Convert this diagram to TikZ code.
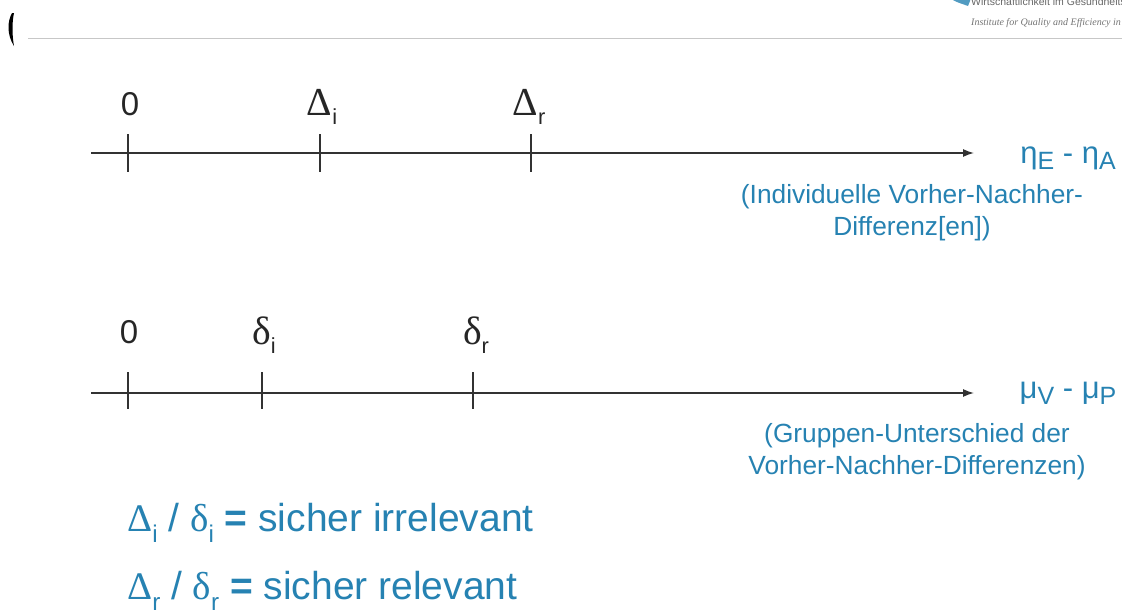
\documentclass[tikz,border=0pt]{standalone}
\usepackage{fontspec}
\setmainfont{Liberation Sans}
\newfontfamily\sym[Scale=1.2]{Liberation Serif}
\newfontfamily\symflat{Liberation Serif}
\newfontfamily\hdrserif{Liberation Serif}
\usetikzlibrary{arrows.meta}
\definecolor{iqblue}{RGB}{38,130,178}
\definecolor{axisc}{RGB}{50,50,50}
\tikzset{
 x=1pt,y=-1pt,
 axisline/.style={draw=axisc,line width=1.4pt,-{Latex[length=11pt,width=8pt]}},
 tick/.style={draw=axisc,line width=1.1pt},
 lab/.style={text=black!85,font=\fontsize{33}{33}\selectfont,inner sep=0pt,anchor=base},
 varlab/.style={text=iqblue,font=\fontsize{31}{31}\selectfont,inner sep=0pt,anchor=base},
 note/.style={text=iqblue,font=\fontsize{26.3}{32}\selectfont,inner sep=0pt,align=center,anchor=center},
 legend/.style={text=iqblue,font=\fontsize{39}{39}\selectfont,inner sep=0pt,anchor=base west},
}
\newcommand{\gsub}[2]{{\sym #1}\raisebox{-0.3em}{\fontsize{0.66em}{1em}\selectfont #2}}
\newcommand{\lsub}[2]{{\symflat #1}\raisebox{-0.3em}{\fontsize{0.62em}{1em}\selectfont #2}}
\newcommand{\vsub}[1]{\raisebox{-0.22em}{\fontsize{25}{25}\selectfont #1}}
\begin{document}
\begin{tikzpicture}
\useasboundingbox (0,0) rectangle (1122,611);
\begin{scope}
\clip (0,0) rectangle (1122,611);
% header
\fill[black] (12,13) .. controls (7,22) and (7,35) .. (14,46) .. controls (12,35) and (12,22) .. (14,13) -- cycle;
\draw[black!22,line width=1pt] (28,38) -- (1122,38);
\fill[iqblue!80] (953,0) .. controls (958,3) and (963,4) .. (968,6) -- (970,1) -- (970,0) -- cycle;
\node[anchor=base west,inner sep=0pt,text=black!60,font=\fontsize{10.5}{11}\selectfont] (hdra) at (971,5) {Wirtschaftlichkeit im Gesundheitswesen};
\node[anchor=base west,inner sep=0pt,text=black!55,font=\hdrserif\itshape\fontsize{10}{11}\selectfont] (hdrb) at (971,25) {Institute for Quality and Efficiency in Health Care};
% axis 1
\coordinate (a1s) at (91,153);
\coordinate (a1e) at (974,153);
\draw[axisline] (a1s) -- (a1e);
\coordinate (t10a) at (128,134); \coordinate (t10b) at (128,172);
\coordinate (t11a) at (320,134); \coordinate (t11b) at (320,172);
\coordinate (t12a) at (531,134); \coordinate (t12b) at (531,172);
\draw[tick] (t10a) -- (t10b);
\draw[tick] (t11a) -- (t11b);
\draw[tick] (t12a) -- (t12b);
\node[lab] (z1) at (130,115) {0};
\node[lab] (di) at (322,115) {\gsub{Δ}{i}};
\node[lab] (dr) at (529,115) {\gsub{Δ}{r}};
\node[varlab] (v1) at (1068,163) {η\vsub{E} - η\vsub{A}};
\node[note] (n1) at (912,212.5) {(Individuelle Vorher-Nachher-\\Differenz[en])};
% axis 2
\coordinate (a2s) at (91,393);
\coordinate (a2e) at (974,393);
\draw[axisline] (a2s) -- (a2e);
\coordinate (t20a) at (128,372); \coordinate (t20b) at (128,409);
\coordinate (t21a) at (262,372); \coordinate (t21b) at (262,409);
\coordinate (t22a) at (473,372); \coordinate (t22b) at (473,409);
\draw[tick] (t20a) -- (t20b);
\draw[tick] (t21a) -- (t21b);
\draw[tick] (t22a) -- (t22b);
\node[lab] (z2) at (129,343) {0};
\node[lab] (si) at (264,344) {\gsub{δ}{i}};
\node[lab] (sr) at (476,344) {\gsub{δ}{r}};
\node[varlab] (v2) at (1068,398) {μ\vsub{V} - μ\vsub{P}};
\node[note] (n2) at (917,451.5) {(Gruppen-Unterschied der\\Vorher-Nachher-Differenzen)};
% legend
\node[legend] (l1) at (127,531) {\lsub{Δ}{i} / \lsub{δ}{i} \textbf{=} sicher irrelevant};
\node[legend] (l2) at (127,599) {\lsub{Δ}{r} / \lsub{δ}{r} \textbf{=} sicher relevant};
\end{scope}
\end{tikzpicture}
\end{document}
